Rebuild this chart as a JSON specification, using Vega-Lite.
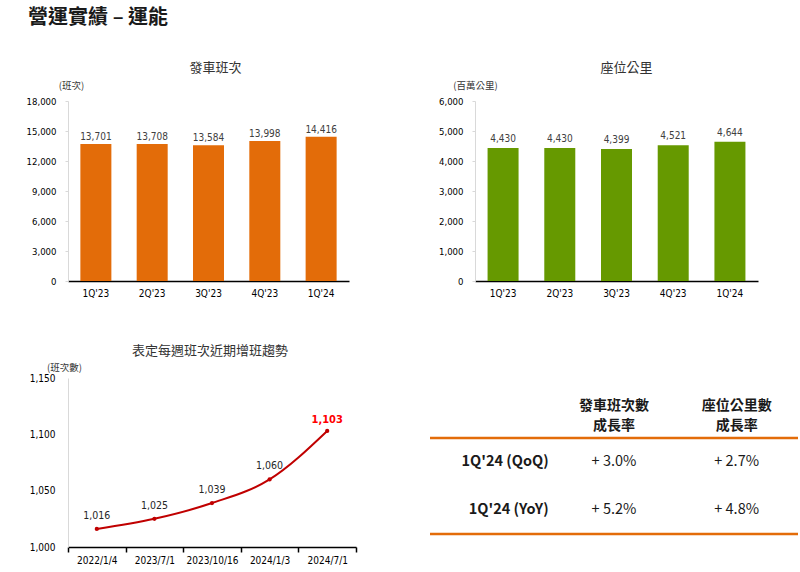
{
  "$schema": "https://vega.github.io/schema/vega-lite/v6.json",
  "background": "white",
  "padding": {"left": 26, "top": 8, "right": 2, "bottom": 4},
  "title": {"text": "營運實績 – 運能", "anchor": "start", "fontSize": 20, "font": "Noto Sans CJK TC", "fontWeight": "bold", "color": "#1a1a1a", "offset": 34, "dx": 2},
  "config": {
    "view": {"stroke": null},
    "font": "DejaVu Sans Condensed",
    "title": {"font": "Noto Sans CJK TC", "fontSize": 13, "fontWeight": "normal", "color": "#333333"},
    "axis": {"labelFont": "DejaVu Sans Condensed", "labelFontSize": 9.5, "labelColor": "#000000", "titleFont": "Noto Sans CJK TC", "titleFontSize": 9.5, "titleFontWeight": "normal", "titleColor": "#333333", "grid": false}
  },
  "datasets": {
    "trips": [
      {"q": "1Q'23", "v": 13701}, {"q": "2Q'23", "v": 13708}, {"q": "3Q'23", "v": 13584}, {"q": "4Q'23", "v": 13998}, {"q": "1Q'24", "v": 14416}
    ],
    "seatkm": [
      {"q": "1Q'23", "v": 4430}, {"q": "2Q'23", "v": 4430}, {"q": "3Q'23", "v": 4399}, {"q": "4Q'23", "v": 4521}, {"q": "1Q'24", "v": 4644}
    ],
    "weekly": [
      {"d": "2022/1/4", "v": 1016}, {"d": "2023/7/1", "v": 1025}, {"d": "2023/10/16", "v": 1039}, {"d": "2024/1/3", "v": 1060}, {"d": "2024/7/1", "v": 1103}
    ],
    "header": [
      {"metric": "發車班次數\n成長率"}, {"metric": "座位公里數\n成長率"}
    ],
    "table": [
      {"row": "1Q'24 (QoQ)", "metric": "發車班次數\n成長率", "value": "+ 3.0%"},
      {"row": "1Q'24 (QoQ)", "metric": "座位公里數\n成長率", "value": "+ 2.7%"},
      {"row": "1Q'24 (YoY)", "metric": "發車班次數\n成長率", "value": "+ 5.2%"},
      {"row": "1Q'24 (YoY)", "metric": "座位公里數\n成長率", "value": "+ 4.8%"}
    ],
    "rows": [{"row": "1Q'24 (QoQ)"}, {"row": "1Q'24 (YoY)"}]
  },
  "spacing": 47,
  "vconcat": [
    {
      "spacing": 89,
      "hconcat": [
        {
          "title": {"text": "發車班次", "offset": 5, "dx": 7},
          "width": 281, "height": 180,
          "data": {"name": "trips"},
          "encoding": {
            "x": {"field": "q", "type": "ordinal", "sort": null, "scale": {"paddingInner": 0.45, "paddingOuter": 0.22},
                  "axis": {"title": null, "labelAngle": 0, "domainColor": "#000000", "domainWidth": 1.5, "ticks": false, "labelPadding": 7, "labelFontSize": 10}},
            "y": {"field": "v", "type": "quantitative", "scale": {"domain": [0, 18000], "nice": false},
                  "axis": {"values": [0, 3000, 6000, 9000, 12000, 15000, 18000], "format": ",.0f", "domainColor": "#D9D9D9", "tickColor": "#D9D9D9", "tickSize": 3, "labelPadding": 9,
                           "title": "(班次)", "titleAngle": 0, "titleAlign": "center", "titleBaseline": "bottom", "titleX": 3, "titleY": -11}}
          },
          "layer": [
            {"mark": {"type": "bar", "color": "#E36C09", "width": 31}},
            {"mark": {"type": "text", "baseline": "bottom", "dy": -2, "fontSize": 10, "color": "#404040"},
             "encoding": {"text": {"field": "v", "format": ",.0f"}}}
          ]
        },
        {
          "title": {"text": "座位公里", "offset": 5, "dx": 10},
          "width": 283, "height": 180,
          "data": {"name": "seatkm"},
          "encoding": {
            "x": {"field": "q", "type": "ordinal", "sort": null, "scale": {"paddingInner": 0.45, "paddingOuter": 0.22},
                  "axis": {"title": null, "labelAngle": 0, "domainColor": "#000000", "domainWidth": 1.5, "ticks": false, "labelPadding": 7, "labelFontSize": 10}},
            "y": {"field": "v", "type": "quantitative", "scale": {"domain": [0, 6000], "nice": false},
                  "axis": {"values": [0, 1000, 2000, 3000, 4000, 5000, 6000], "format": ",.0f", "domainColor": "#D9D9D9", "tickColor": "#D9D9D9", "tickSize": 3, "labelPadding": 9,
                           "title": "(百萬公里)", "titleAngle": 0, "titleAlign": "center", "titleBaseline": "bottom", "titleX": 0, "titleY": -11}}
          },
          "layer": [
            {"mark": {"type": "bar", "color": "#669900", "width": 31}},
            {"mark": {"type": "text", "baseline": "bottom", "dy": -4, "fontSize": 10, "color": "#404040"},
             "encoding": {"text": {"field": "v", "format": ",.0f"}}}
          ]
        }
      ]
    },
    {
      "spacing": 71,
      "hconcat": [
        {
          "title": {"text": "表定每週班次近期增班趨勢", "offset": 4, "dx": -2},
          "width": 288, "height": 169,
          "data": {"name": "weekly"},
          "encoding": {
            "x": {"field": "d", "type": "ordinal", "sort": null, "bandPosition": 0.5, "scale": {"type": "band", "paddingInner": 0, "paddingOuter": 0},
                  "axis": {"title": null, "labelAngle": 0, "domainColor": "#000000", "domainWidth": 1.5, "tickColor": "#000000", "tickWidth": 1.5, "tickSize": 5, "tickBand": "extent", "labelPadding": 3, "labelFontSize": 10}},
            "y": {"field": "v", "type": "quantitative", "scale": {"domain": [1000, 1150], "nice": false, "zero": false},
                  "axis": {"values": [1000, 1050, 1100, 1150], "format": ",.0f", "domainColor": "#D9D9D9", "ticks": false, "labelPadding": 13, "labelFontSize": 10,
                           "title": "(班次數)", "titleAngle": 0, "titleAlign": "center", "titleBaseline": "bottom", "titleX": -4, "titleY": -6}}
          },
          "layer": [
            {"mark": {"type": "line", "color": "#C00000", "strokeWidth": 2, "interpolate": "monotone"}},
            {"mark": {"type": "point", "filled": true, "color": "#C00000", "size": 18, "opacity": 1}},
            {"transform": [{"filter": "datum.d != '2024/7/1'"}],
             "mark": {"type": "text", "dy": -13, "fontSize": 10.5, "color": "#262626"},
             "encoding": {"text": {"field": "v", "format": ",.0f"}}},
            {"transform": [{"filter": "datum.d == '2024/7/1'"}],
             "mark": {"type": "text", "dy": -11, "fontSize": 11, "fontWeight": "bold", "color": "#FF0000"},
             "encoding": {"text": {"field": "v", "format": ",.0f"}}}
          ]
        },
        {
          "width": 368, "height": 156,
          "encoding": {
            "x": {"scale": {"type": "band", "domain": ["label", "發車班次數\n成長率", "座位公里數\n成長率"], "paddingInner": 0, "paddingOuter": 0}},
            "y": {"scale": {"type": "band", "domain": ["header", "1Q'24 (QoQ)", "1Q'24 (YoY)"], "range": [12, 156], "paddingInner": 0, "paddingOuter": 0}}
          },
          "layer": [
            {"data": {"name": "header"},
             "mark": {"type": "text", "lineBreak": "\n", "font": "Noto Sans CJK TC", "fontSize": 14, "fontWeight": "bold", "color": "#1a1a1a", "lineHeight": 20, "dy": -8},
             "encoding": {
               "x": {"field": "metric", "type": "nominal", "axis": null},
               "y": {"datum": "header", "type": "nominal", "axis": null},
               "text": {"field": "metric"}
             }},
            {"data": {"name": "rows"},
             "mark": {"type": "text", "align": "right", "dx": -4, "font": "Noto Sans CJK TC", "fontSize": 14.5, "fontWeight": "bold", "color": "#1a1a1a"},
             "encoding": {
               "x": {"datum": "label", "type": "nominal", "bandPosition": 1, "axis": null},
               "y": {"field": "row", "type": "nominal", "axis": null},
               "text": {"field": "row"}
             }},
            {"data": {"name": "table"},
             "mark": {"type": "text", "font": "Noto Sans CJK TC", "fontSize": 14.5, "color": "#1a1a1a"},
             "encoding": {
               "x": {"field": "metric", "type": "nominal", "axis": null},
               "y": {"field": "row", "type": "nominal", "axis": null},
               "text": {"field": "value"}
             }},
            {"data": {"name": "rows"},
             "transform": [{"filter": "datum.row == \"1Q'24 (QoQ)\""}],
             "mark": {"type": "rule", "color": "#E36C09", "strokeWidth": 2.5},
             "encoding": {"y": {"field": "row", "type": "nominal", "bandPosition": 0, "axis": null}}},
            {"data": {"name": "rows"},
             "transform": [{"filter": "datum.row == \"1Q'24 (YoY)\""}],
             "mark": {"type": "rule", "color": "#E36C09", "strokeWidth": 2.5},
             "encoding": {"y": {"field": "row", "type": "nominal", "bandPosition": 1, "axis": null}}}
          ]
        }
      ]
    }
  ]
}
